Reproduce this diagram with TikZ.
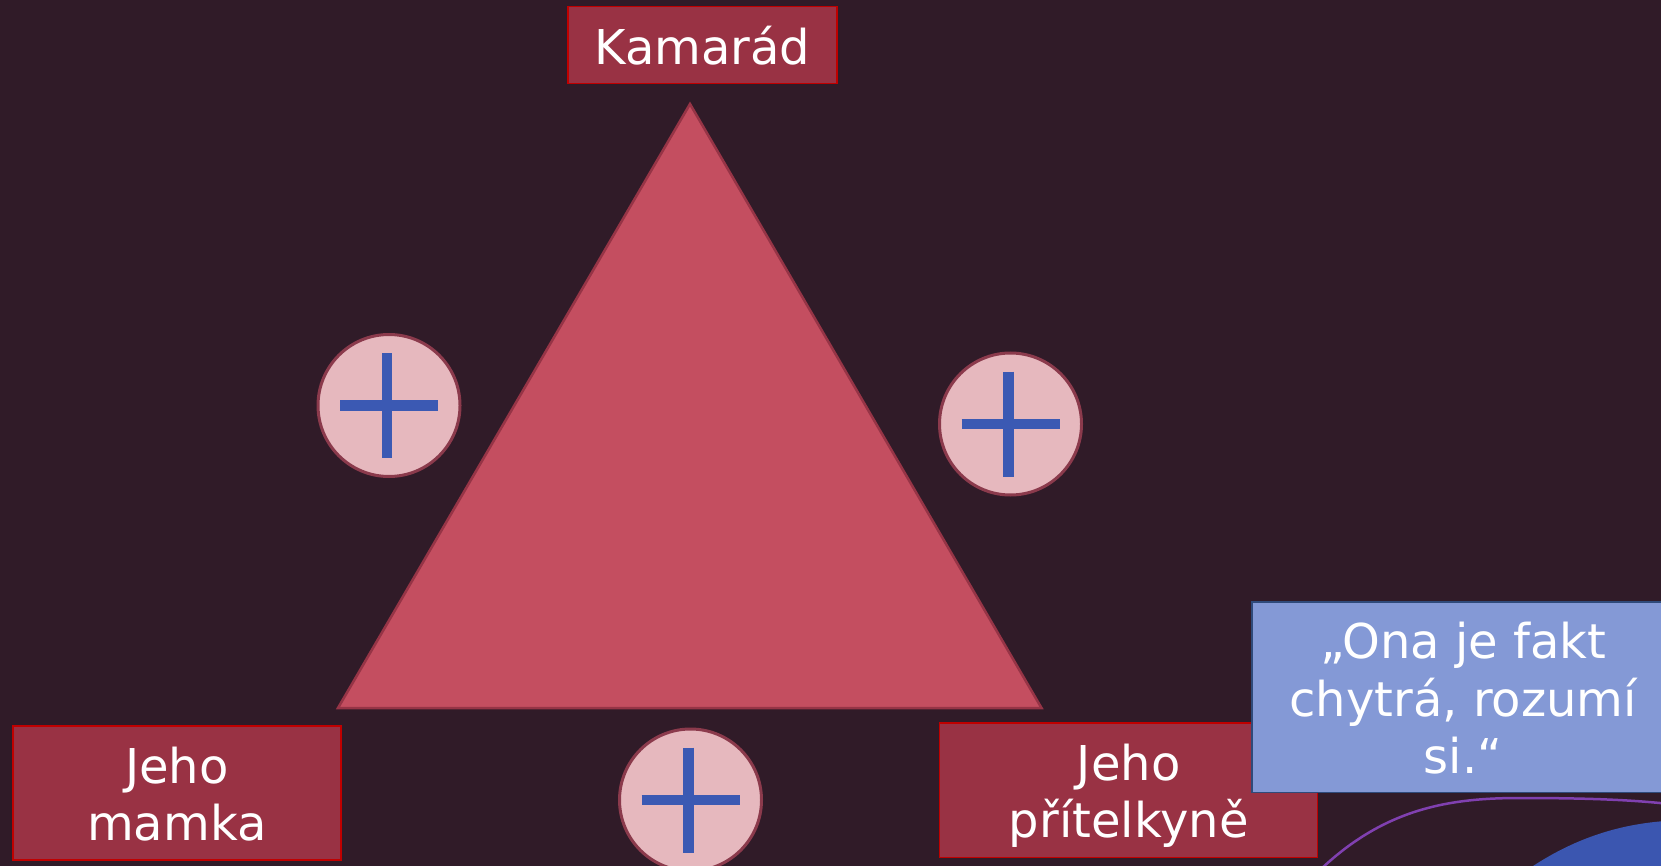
\documentclass[tikz,border=0pt]{standalone}
\usepackage{fontspec}
\setmainfont{DejaVu Sans}
\definecolor{bg}{RGB}{48,27,40}
\definecolor{tri}{RGB}{196,78,96}
\definecolor{tristroke}{RGB}{150,52,70}
\definecolor{boxfill}{RGB}{153,50,68}
\definecolor{boxline}{RGB}{192,0,0}
\definecolor{circfill}{RGB}{230,184,190}
\definecolor{circline}{RGB}{139,58,76}
\definecolor{plusblue}{RGB}{59,89,179}
\definecolor{quotefill}{RGB}{132,153,214}
\definecolor{quoteline}{RGB}{47,74,122}
\definecolor{curvecol}{RGB}{128,64,176}
\definecolor{blob}{RGB}{59,86,176}
\begin{document}
\begin{tikzpicture}[x=1pt,y=-1pt,
  namebox/.style={draw=boxline, line width=1.5pt, fill=boxfill, text=white,
    inner sep=0pt, align=center, text depth=0pt, font=\fontsize{48}{57}\selectfont},
  quotebox/.style={draw=quoteline, line width=1.5pt, fill=quotefill, text=white,
    inner sep=0pt, align=center, text depth=0pt, font=\fontsize{48}{57.5}\selectfont},
  pluscirc/.style={circle, draw=circline, line width=3pt, fill=circfill,
    minimum size=142pt, inner sep=0pt},
  plusbar/.style={draw=plusblue, line width=10.5pt}]
\useasboundingbox (0,0) rectangle (1661,866);
\fill[bg] (0,0) rectangle (1661,866);
\clip (0,0) rectangle (1661,866);
% triangle
\draw[fill=tri, draw=tristroke, line width=2.5pt, line join=miter]
  (690,104) -- (338,708) -- (1041.5,708) -- cycle;
% name boxes
\node[namebox, minimum width=269pt, minimum height=76.6pt] (kam) at (702.3,45) {Kamarád};
\node[namebox, minimum width=328pt, minimum height=134pt] (mamka) at (176.8,792.9)
  {\raisebox{-2pt}{Jeho}\\\raisebox{-2pt}{mamka}};
\node[namebox, minimum width=378pt, minimum height=134.3pt] (pritel) at (1128.7,790.2)
  {\raisebox{-2pt}{Jeho}\\\raisebox{-2pt}{přítelkyně}};
% quote
\node[quotebox, minimum width=422pt, minimum height=190.6pt] (quote) at (1463.2,697.2)
  {\raisebox{-2pt}{„Ona je fakt}\\\raisebox{-2pt}{chytrá, rozumí}\\\raisebox{-2pt}{si.“}};
% plus circles
\node[pluscirc] (cl) at (389,405.5) {};
\node[pluscirc] (cr) at (1010.5,424) {};
\node[pluscirc] (cb) at (690.5,800) {};
\foreach \c in {cl,cr,cb}{
  \draw[plusbar] ([xshift=-49pt]\c.center) -- ([xshift=49pt]\c.center);
  \draw[plusbar] ([xshift=-2pt,yshift=52.5pt]\c.center) -- ([xshift=-2pt,yshift=-52.5pt]\c.center);
}
% bottom-right shapes
\fill[blob] (1527,870) .. controls (1568,842) and (1612,825) .. (1665,821) -- (1665,870) -- cycle;
\draw[curvecol, line width=2.5pt] (1320,870) .. controls (1385,808) and (1450,798) .. (1520,798)
  .. controls (1590,798) and (1630,800) .. (1665,803.5);
\end{tikzpicture}
\end{document}
